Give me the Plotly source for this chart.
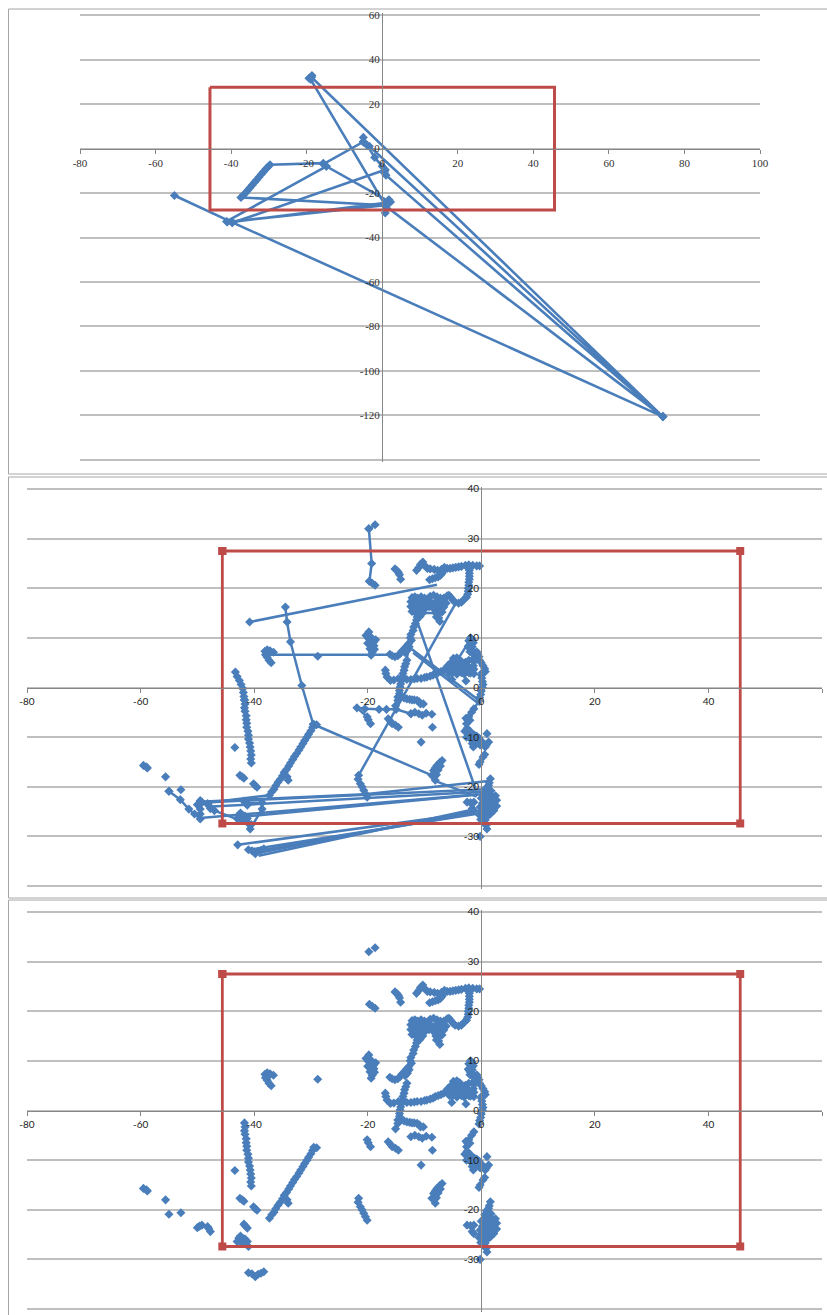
import plotly.graph_objects as go

W, H = 827, 1315
BLUE = "#4A7EBB"
MARK = "#4A7EBB"
RED = "#BE4B48"
GRID = "#BFBFBF"
AXIS = "#868686"
FRAME = "#A6A6A6"

# Region rectangle
REGION_A_X = [-45.6, 45.6, 45.6, -45.6, -45.6]
REGION_A_Y = [27.5, 27.5, -27.6, -27.6, 27.5]
REGION_B_X = [-45.6, 45.6, 45.6, -45.6, -45.6]
REGION_B_Y = [27.5, 27.5, -27.4, -27.4, 27.5]

# Panel 1: ordered raw path
RAW_X = [-55, -39.7, 74.3, -18.7, -19.4, -18.6, -18.9, 1, 74.3, -3.4, -5, -5, -5, -15.6, -14.8, -41.2, -39.7,
         0.8, 0.6, 1, 74.3]
RAW_Y = [-21.1, -33.2, -120.5, 32, 31.6, 32.8, 31, -26, -120.5, 1, 3, 5, 3, -7, -8, -32.8, -33.4,
         -9.5, -11, -12, -120.5]
RAW2_X = [-4, -2, 0, 0.7, None, 0.8, 1.2, 1.8, 2.2, 1, -39.7, -41, 0.8, -37.4, -36.8, -36.2, -35.6, -35, -34.4, -33.8,
          -33.2, -32.6, -32, -31.4, -30.8, -30.2, -29.7, -15.6, -14.8, 1.5]
RAW2_Y = [1.5, -4, -8, -10, None, -29, -27, -23, -24, -24.4, -33, -33, -25.5, -22, -21, -20, -18.8, -17.6, -16.4,
          -15.2, -14, -12.8, -11.6, -10.4, -9.2, -8.2, -7.3, -6.6, -8, -23.5]

# Panels 2 and 3: filtered clusters (x, y)
C_TOP = [(-18.7, 32.8), (-19.8, 32)]
C_TOP2 = [(-19.7, 21.4), (-19.2, 21), (-18.7, 20.6)]
C_A = [(-15.2, 23.9), (-14.9, 23.6), (-14.6, 23.2), (-14.4, 22.7), (-14.2, 21.8)]
C_B = [(-11.4, 23.6), (-11, 24.2), (-10.7, 24.8), (-10.3, 25.3), (-10, 24.6), (-9.5, 24), (-9, 23.9), (-8.3, 23.8),
       (-7.7, 23.6), (-7, 23.8), (-6.5, 24.2), (-6, 24), (-5.5, 24), (-5, 24.1), (-4.5, 24.2), (-4, 24.3),
       (-3.5, 24.4), (-2.8, 24.6), (-2.2, 24.7), (-1.5, 24.6), (-0.8, 24.5), (-0.3, 24.5)]
C_B2 = [(-9.1, 21.7), (-8.6, 21.9), (-8.1, 22.1), (-7.6, 22.3), (-7.2, 22.6), (-6.9, 23), (-6.6, 23.6)]
C_C = [(-2.1, 24.2), (-2.1, 23.6), (-2.1, 23), (-2.1, 22.4), (-2.1, 21.8), (-2.2, 21.2), (-2.2, 20.6), (-2.3, 20),
       (-2.3, 19.4), (-2.4, 18.8), (-2.6, 18.2), (-3, 17.8), (-3.5, 17.2), (-4, 17), (-4.6, 17.2), (-5, 17.6),
       (-5.4, 18.2), (-5.7, 18.6)]
C_D = [(-12.2, 18.1), (-11.7, 18.3), (-11.2, 18), (-10.6, 18.3), (-10, 18), (-9.5, 17.8), (-9, 18.4), (-8.4, 18.6),
       (-7.8, 18.3), (-7.2, 18), (-6.6, 18), (-6, 18.5),
       (-6.2, 17), (-6.8, 17.2), (-7.4, 17), (-8, 17.2), (-8.7, 17), (-9.6, 16.8), (-10.1, 17.1), (-10.7, 17.4),
       (-11.3, 17.2), (-11.9, 17.2), (-12.4, 17.3),
       (-12.4, 16.3), (-11.8, 16.2), (-11.2, 16.1), (-10.6, 16.2), (-10, 15.8), (-9.2, 16.3), (-8.5, 16), (-7.9, 16),
       (-7.3, 16), (-6.6, 16.2),
       (-6.9, 15.2), (-7.4, 15), (-8, 15), (-10.3, 15), (-10.9, 15.2), (-11.5, 15), (-12.2, 15.3),
       (-11.3, 14.2), (-10.8, 14.3)]
C_D2 = [(-7.9, 14.2), (-7.5, 14), (-7.3, 13.3)]
C_E = [(-11.4, 13.6), (-11.6, 12.9), (-11.9, 12.2), (-12, 11.5), (-12.4, 10.7), (-12.5, 10), (-12.3, 9.5), (-12.8, 8.8),
       (-13.1, 8.4), (-13.4, 8), (-13.7, 7.6), (-14, 7.3), (-14.3, 6.8), (-14.7, 6.4), (-15.2, 6.2), (-15.7, 6.4),
       (-16.1, 6.7)]
C_E2 = [(-13.4, 7), (-13, 7.5), (-12.7, 8.2), (-13.1, 5.5), (-13.3, 4.8), (-13.5, 4.2), (-13.6, 3.5), (-13.8, 2.8),
        (-13.8, 2.1), (-14, 1.4), (-14.2, 0.7), (-14.3, 0.1), (-14.4, -0.6), (-14.4, -1.2), (-14.7, -1.9),
        (-14.7, -2.6), (-15.1, -3.7)]
C_F = [(-16.9, 3.5), (-16.8, 2.8), (-16.6, 2.1), (-16, 1.4), (-15.4, 1.5), (-14.6, 1.8), (-14, 1.8), (-13.1, 1.6),
       (-12.4, 1.6), (-11.8, 1.7), (-11.3, 1.8), (-10.6, 1.8), (-10, 2), (-9.6, 2.1), (-9, 2.3), (-8.5, 2.5),
       (-8.1, 2.8), (-7.6, 3), (-7.1, 3.2), (-6.6, 3.5), (-6, 3.8), (-5.5, 4.2)]
C_G = [(-5.5, 3.7), (-5, 4.3), (-4.7, 5), (-4.4, 5.5), (-4, 5), (-3.6, 4.5), (-3.2, 4), (-3, 3.3), (-3.5, 3), (-4, 3.2),
       (-4.5, 3.5), (-5, 3), (-4.2, 4.2), (-3.6, 3.6), (-4.8, 3.9), (-2.8, 5.1), (-2.2, 5.5), (-2.2, 4.1), (-1.6, 3.5)]
C_G_FILL = [(-5.2, 5.2), (-4.9, 5.9), (-4.3, 6), (-3.8, 5.6), (-3.4, 5), (-3, 4.6), (-2.6, 4.2), (-2.5, 3.4), (-2.2, 3),
            (-3, 2.7), (-4.3, 2.7), (-5.6, 3), (-5.9, 4.4), (-1.9, 2.9)]
C_G2 = [(-5.2, 1.6)]
C_G3 = [(-2.7, 1.3)]
C_H = [(-1.9, 10), (-1.6, 9.7), (-1.8, 9), (-1.9, 8.4), (-2, 7.8), (-2, 7.2), (-1.6, 8.2), (-1.5, 7.4), (-1.4, 9), (-2.2, 9.4),
       (-2.3, 8.3)]
C_I = [(-1.3, 6.6), (-1.3, 5.9), (-1.3, 5.2), (-1.4, 4.4), (-1.3, 3.7), (-1.3, 2.8)]
C_J = [(-0.8, 7.2), (-0.6, 6.7), (-0.4, 6.2), (-0.3, 5.5), (0, 5), (0.3, 4.4), (0.6, 3.8), (0.7, 3.2), (0.2, 3), (0, 2.5),
       (0.1, 1.9), (0.2, 1.2), (0.3, 0.6), (0.2, 0), (0, -0.7), (-0.1, -1.4), (-0.3, -2), (-0.4, -2.7)]
C_K = [(-1.3, -4.3), (-1.7, -5), (-2.2, -5.9), (-2.4, -6.6), (-2.6, -7.3), (-2.5, -8.2), (-2.2, -9.3), (-1.9, -10.3),
       (-1.6, -11.3), (-1.4, -10.4), (-1.2, -9.6), (-0.8, -9.8), (-0.4, -10.2), (0, -10.8), (0.4, -11.3)]
C_K_FILL = [(-2.7, -6.2), (-2, -6.6), (-2.9, -8.8), (-2.6, -10), (-1.9, -8.9), (-1.2, -11), (-0.7, -11), (-1.4, -12),
            (-0.2, -11.6)]
C_K2 = [(1, -9.3)]
C_K3 = [(1.3, -11), (0.9, -11.6), (0.7, -12)]
C_K4 = [(0.6, -13.5), (0.3, -14)]
C_K5 = [(-0.2, -15), (-0.4, -15.5)]
C_L = [(-14.3, -1.9), (-13.6, -2.1), (-13.1, -2.3), (-12.6, -2.4), (-12.2, -2.5), (-11.8, -2.5), (-11.3, -2.6),
       (-10.9, -2.9), (-10.7, -3.3), (-10.2, -3.3)]
C_M = [(-12.4, -5.3), (-11.7, -5), (-11, -5.3), (-10.4, -5.6), (-9.7, -5.2), (-8.7, -5.4)]
C_M2 = [(-8.6, -8)]
C_M3 = [(-10.6, -11)]
C_N = [(-16.4, -6.3), (-16, -6.8), (-15.7, -7.3), (-15.1, -7.6), (-14.6, -8)]
C_O = [(-20.1, -5.9), (-19.9, -6.5), (-19.5, -7.3)]
C_P = [(-21.6, -17.7), (-21.7, -18.5), (-21.3, -19.4), (-21, -20), (-20.7, -20.7), (-20.4, -21.4), (-20.1, -22.1)]
C_Q = [(-6.9, -14.7), (-7.3, -15.1), (-7.8, -15.7), (-8.1, -16.2), (-8.4, -16.7), (-8.7, -17.7), (-8.1, -18.7),
       (-7.9, -17.6), (-7.6, -16.6), (-7.2, -15.8)]
C_R = [(-2.5, -23.1), (-1.9, -23.2), (-1.3, -23.1), (-1.6, -24.4), (-1.3, -24.8)]
C_S = [(1.6, -18.4), (1.4, -19.2), (1.3, -19.7), (1.1, -20.5), (1.7, -20.8), (1, -21.4), (0.5, -21.8), (1.8, -21.7),
       (2.5, -21.8), (2.7, -22.7), (1.5, -22.6), (0.7, -22.8), (0.2, -23.3), (1.2, -23.6), (2.1, -23.4), (2.7, -23.9),
       (2.2, -24.8), (1.3, -24.6), (0.3, -24.5), (-0.1, -25), (0.8, -25.4), (1.6, -25.5), (0.2, -26.1), (0.7, -26.7),
       (0.9, -27.7), (1, -28.5)]
C_S_FILL = [(0.9, -20.2), (0.6, -21), (0, -22.3), (1.2, -22.2), (2, -22.2), (-0.2, -24.1), (0.7, -24), (1.8, -24.4),
            (-0.4, -25.6), (0.4, -25.2), (1.2, -25.8), (-0.1, -26.6), (0.4, -27.3)]
C_S2 = [(-0.2, -30)]
C_T = [(-59.5, -15.7), (-59, -16), (-58.8, -16.2)]
C_T2 = [(-55.6, -18)]
C_T3 = [(-55, -20.9)]
C_T4 = [(-52.9, -20.6)]
C_U = [(-50, -23.6), (-49.6, -23.3), (-49.2, -23.1)]
C_U2 = [(-48.2, -23.4), (-48, -23.8), (-47.7, -24.4)]
C_V = [(-41.7, -2.5), (-41.6, -3.3), (-41.7, -4.1), (-41.6, -4.8), (-41.4, -5.7), (-41.4, -6.5), (-41.3, -7.2),
       (-41.3, -8), (-41.1, -8.8), (-41, -9.6), (-41, -10.4), (-40.8, -11.2), (-40.7, -12), (-40.6, -12.8),
       (-40.5, -13.6), (-40.6, -14.4), (-40.5, -15.2)]
C_V2 = [(-43.4, -12.1)]
C_W = [(-42.5, -17.7), (-42.1, -18), (-41.8, -18.3)]
C_W2 = [(-40.1, -19.4), (-39.8, -19.8), (-39.5, -20.1)]
C_W3 = [(-41.8, -22.9), (-41.5, -23.3), (-41.2, -23.7)]
C_X = [(-43, -26.4), (-42.7, -25.7), (-42.4, -25.3), (-42, -25.8), (-41.6, -25.9), (-41.2, -26.4), (-41.7, -26.6),
       (-42.3, -26.6), (-41, -27.4)]
C_Y = [(-41, -32.7), (-40.4, -32.9), (-39.8, -33.5), (-39.3, -33), (-38.8, -32.8), (-38.3, -32.5)]
C_Z = [(-37.3, -21.7), (-36.9, -21), (-36.5, -20.5), (-36.2, -19.8), (-35.8, -19.1), (-35.4, -18.5), (-35, -17.8),
       (-34.7, -17.1), (-34.3, -16.5), (-33.9, -15.8), (-33.6, -15.2), (-33.2, -14.5), (-32.9, -13.9), (-32.5, -13.3),
       (-32.1, -12.6), (-31.8, -12), (-31.4, -11.3), (-31.1, -10.7), (-30.7, -10), (-30.4, -9.4), (-30, -8.7),
       (-29.7, -8), (-29.5, -7.4), (-29, -7.5)]
C_Z2 = [(-34.2, -18), (-34, -18.7)]
C_AA = [(-28.8, 6.3)]
C_AB = [(-38.1, 7.3), (-37.7, 7.6), (-37.2, 7.4), (-36.6, 7.1), (-37.4, 7), (-38, 6.6), (-37.7, 6.1), (-37.4, 5.5), (-37, 5)]
C_AC = [(-19.8, 11.2), (-20.3, 10.5), (-19.9, 9.9), (-19.4, 10.1), (-19, 9.1), (-19.6, 9.1), (-19.3, 8.4), (-18.9, 8.4),
        (-19.6, 7.8), (-19.2, 7.1), (-19.4, 6.5), (-18.6, 9.6), (-18.8, 7.7), (-20, 8.9)]

FILTERED = [C_TOP, C_TOP2, C_A, C_B, C_B2, C_C, C_D, C_D2, C_E, C_E2, C_F, C_G, C_G2, C_G3, C_H, C_I, C_J, C_K, C_K2,
            C_K3, C_K4, C_K5, C_L, C_M, C_M2, C_M3, C_N, C_O, C_P, C_Q, C_R, C_S, C_S2, C_T, C_T2, C_T3, C_T4, C_U,
            C_U2, C_V, C_V2, C_W, C_W2, C_W3, C_X, C_Y, C_Z, C_Z2, C_AA, C_AB, C_AC, C_G_FILL, C_K_FILL, C_S_FILL]

# Panel 2 only: points removed by the filter, still on the path
EXTRA_COLUMN = [(-43.3, 3.1), (-43, 2.2), (-42.6, 1.4), (-42.3, 0.6), (-42, -0.2), (-41.9, -1), (-41.8, -1.8), (-41.7, -2.5)]
EXTRA_WEST = [(-34.5, 16.2), (-34.2, 13.2), (-33.6, 9.2), (-31.6, 0.4), (-29.6, -7.4)]
EXTRA_SW = [(-55, -20.9), (-53, -22.6), (-51.5, -24.5), (-50.5, -25.5), (-49.5, -26.5), (-49.5, -25.5), (-49.5, -24.5),
            (-49.5, -23.5), (-49.5, -22.8)]
EXTRA_TOP = [(-19.8, 32), (-19.3, 25), (-19.7, 21.4)]
EXTRA_ROW = [(-21.9, -4.1), (-20.5, -4.3), (-18, -4.4), (-16.7, -4.4), (-15, -4.4), (-12.4, -5.3)]
EXTRA_LOW = [(-42.9, -31.7)]
EXTRA_WEST2 = [(-40.8, 13.2)]
EXTRA_MIDDLE = [(-41.3, -23.2), (-38.6, -23.2), (-38.6, -24.5), (-40.7, -28.5), (-40.5, -27.6), (-47, -24.8)]
EXTRA_PANEL2 = [EXTRA_COLUMN, EXTRA_WEST, EXTRA_SW, EXTRA_TOP, EXTRA_ROW, EXTRA_LOW, EXTRA_WEST2, EXTRA_MIDDLE]

# Panel 2 only: long jumps of the path
JUMPS = [
    [(-40.8, 13.2), (-7.8, 20.7)],
    [(-29.6, -7.4), (-8.7, -17.7)],
    [(-8.4, -18.7), (-0.8, -22)],
    [(-37.4, 6.6), (-19.3, 6.6), (-16.5, 6.6)],
    [(-11.5, 14), (-1, -20.5)],
    [(-21.6, -17.7), (-4.6, 16.8)],
    [(-12.8, 8.2), (-0.5, -2.5)],
    [(-12, 7), (-0.2, -3.5)],
    [(-1.9, 9.7), (-4.5, 5)],
    [(-0.4, -2.7), (-1.3, -4.3)],
    [(-20.1, -5.9), (-21.9, -4.1)],
    [(-14.7, -2.6), (-14.5, -1.2), (-15, -4.4)],
    [(-49.5, -23), (-20.5, -21.5), (1.7, -18.8)],
    [(-49.5, -23.2), (0.5, -20.5)],
    [(-47.5, -24), (0, -21)],
    [(-41.5, -26), (0, -21.5)],
    [(-49.5, -26.3), (-0.5, -21.5)],
    [(-42.9, -31.7), (-1, -25.2)],
    [(-41, -32.7), (-1, -25.5)],
    [(-39.2, -33.9), (-1, -24.5)],
    [(-38.3, -32.7), (-1, -25.3)],
    [(-40, -33.5), (-1, -24.8)],
    [(-37.3, -21.7), (-49.5, -23.4)],
]

XT1 = [-80, -60, -40, -20, 0, 20, 40, 60, 80, 100]
YT1 = [-140, -120, -100, -80, -60, -40, -20, 0, 20, 40, 60]
YL1 = ["", "-120", "-100", "-80", "-60", "-40", "-20", "0", "20", "40", "60"]
XT2 = [-80, -60, -40, -20, 0, 20, 40, 60]
YT2 = [-40, -30, -20, -10, 0, 10, 20, 30, 40]
YL2 = ["", "-30", "-20", "-10", "0", "10", "20", "30", "40"]


def flat(groups):
    xs, ys = [], []
    for g in groups:
        for p in g:
            xs.append(p[0])
            ys.append(p[1])
        xs.append(None)
        ys.append(None)
    return xs, ys


fig = go.Figure()


def add_axes(i, xr, yr, xt, yt, yl, left, right, top, bottom, x0px, y0px, font):
    dom_x = [left / W, right / W]
    dom_y = [1 - bottom / H, 1 - top / H]
    common = dict(showline=True, linecolor=AXIS, linewidth=1, zeroline=False, ticks="outside",
                  ticklen=4, tickcolor=AXIS, tickfont=font)
    fig.layout[f"xaxis{i}"] = dict(domain=dom_x, range=xr, tickvals=xt, ticktext=[str(v) for v in xt], showgrid=False,
                                   anchor="free", position=1 - y0px / H, **common)
    com2 = dict(common)
    com2["ticklen"] = 0
    com2["ticks"] = ""
    fig.layout[f"yaxis{i}"] = dict(domain=dom_y, range=yr, tickvals=yt, ticktext=yl, showgrid=True, gridcolor=GRID,
                                   gridwidth=1.6, anchor="free", position=x0px / W, **com2)


F1 = dict(family="Liberation Sans Narrow", size=11, color="#333333")
F2 = dict(family="Lato", size=10, color="#222222")

# y ranges run a little past the end ticks so their gridlines are kept
add_axes("", [-80, 100], [-141, 61], XT1, YT1, YL1, 80, 760, 12.8, 462.2, 382, 149, F1)
add_axes("2", [-80, 60], [-40.5, 40.5], XT2, YT2, YL2, 27, 822, 486.5, 888.5, 481, 687.5, F2)
add_axes("3", [-80, 60], [-40.5, 40.5], XT2, YT2, YL2, 27, 822, 909.5, 1311.5, 481, 1110.5, F2)

MS = 7
# Panel 1
fig.add_trace(go.Scatter(x=RAW_X, y=RAW_Y, mode="lines+markers", line=dict(color=BLUE, width=2.6),
                         marker=dict(symbol="diamond", size=MS, color=MARK), xaxis="x", yaxis="y", cliponaxis=False))
fig.add_trace(go.Scatter(x=RAW2_X, y=RAW2_Y, mode="lines+markers", line=dict(color=BLUE, width=2.6), connectgaps=False,
                         marker=dict(symbol="diamond", size=MS, color=MARK), xaxis="x", yaxis="y", cliponaxis=False))
fig.add_trace(go.Scatter(x=REGION_A_X, y=REGION_A_Y, mode="lines", line=dict(color=RED, width=3),
                         xaxis="x", yaxis="y", cliponaxis=False))

# Panel 2
jx, jy = flat(JUMPS)
fig.add_trace(go.Scatter(x=jx, y=jy, mode="lines", line=dict(color=BLUE, width=2.5), connectgaps=False,
                         xaxis="x2", yaxis="y2", cliponaxis=False))
cx, cy = flat(FILTERED + EXTRA_PANEL2)
fig.add_trace(go.Scatter(x=cx, y=cy, mode="lines+markers", line=dict(color=BLUE, width=2.5), connectgaps=False,
                         marker=dict(symbol="diamond", size=MS, color=MARK), xaxis="x2", yaxis="y2", cliponaxis=False))
fig.add_trace(go.Scatter(x=REGION_B_X, y=REGION_B_Y, mode="lines+markers", line=dict(color=RED, width=2.8),
                         marker=dict(symbol="square", size=8, color=RED), xaxis="x2", yaxis="y2", cliponaxis=False))

# Panel 3
fx, fy = flat(FILTERED)
fig.add_trace(go.Scatter(x=fx, y=fy, mode="markers", marker=dict(symbol="diamond", size=MS, color=MARK),
                         xaxis="x3", yaxis="y3", cliponaxis=False))
fig.add_trace(go.Scatter(x=REGION_B_X, y=REGION_B_Y, mode="lines+markers", line=dict(color=RED, width=2.8),
                         marker=dict(symbol="square", size=8, color=RED), xaxis="x3", yaxis="y3", cliponaxis=False))

frames = [(8.5, 9.5, 9, 474), (8.5, 477, 477, 898), (8.5, 900, 900, 1316)]
shapes = []
for x0, _, t, b in frames:
    shapes.append(dict(type="rect", xref="paper", yref="paper", x0=x0 / W, x1=(W + 5) / W,
                       y0=1 - b / H, y1=1 - t / H, line=dict(color=FRAME, width=1), layer="below"))

fig.update_layout(width=W, height=H, margin=dict(l=0, r=0, t=0, b=0, autoexpand=False), autosize=False,
                  paper_bgcolor="white", plot_bgcolor="rgba(0,0,0,0)", showlegend=False, shapes=shapes,
                  hovermode=False)

fig.write_html("out.html", post_script="document.body.style.margin='0';document.body.style.overflow='hidden';",
               config={"displayModeBar": False})
